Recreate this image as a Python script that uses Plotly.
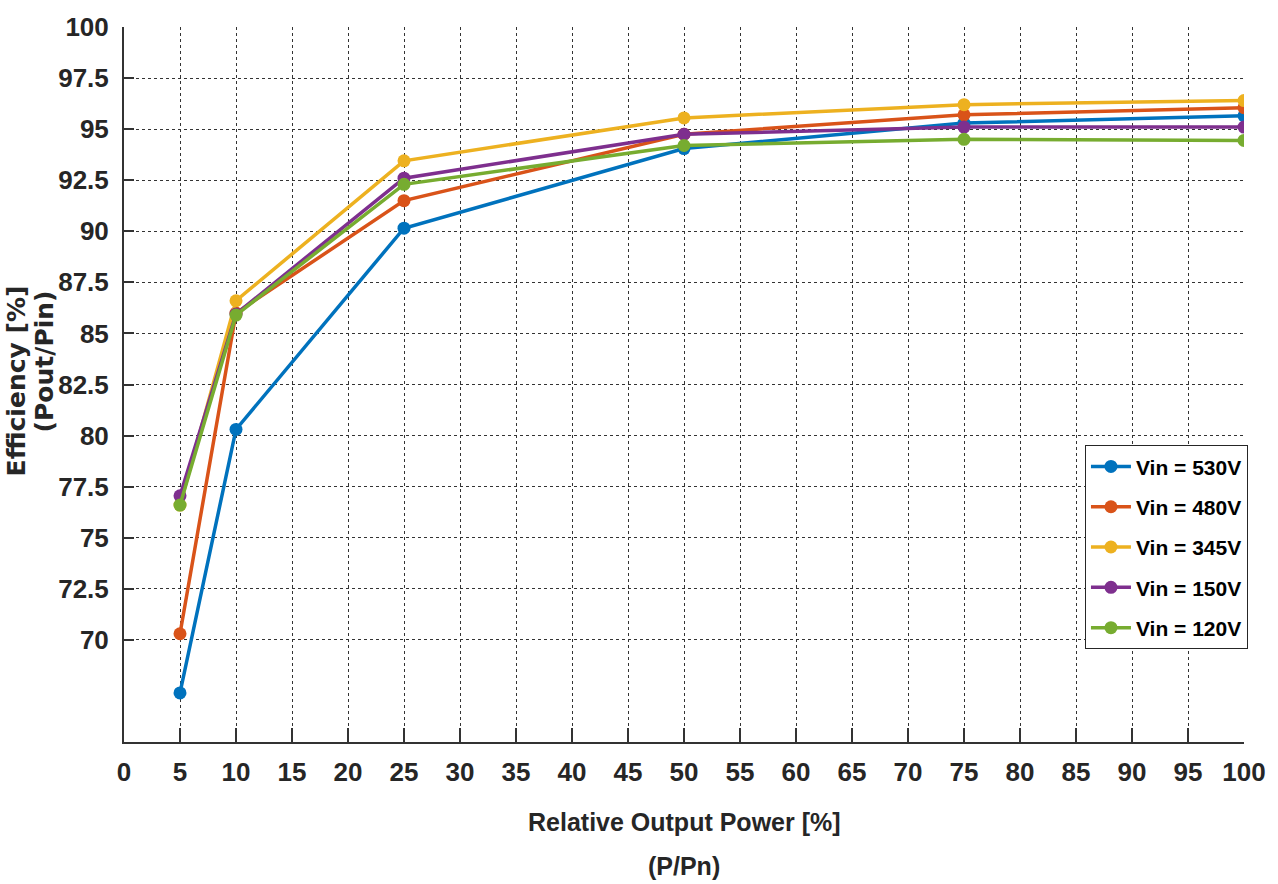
import plotly.graph_objects as go

power = [5, 10, 25, 50, 75, 100]
eff_530 = [67.4, 80.3, 90.15, 94.05, 95.3, 95.65]
eff_480 = [70.3, 86.0, 91.5, 94.75, 95.7, 96.05]
eff_345 = [76.6, 86.6, 93.45, 95.55, 96.2, 96.4]
eff_150 = [77.05, 85.95, 92.6, 94.75, 95.1, 95.1]
eff_120 = [76.6, 85.9, 92.3, 94.2, 94.5, 94.45]
names = ["Vin = 530V", "Vin = 480V", "Vin = 345V", "Vin = 150V", "Vin = 120V"]
colors = ["#0072BD", "#D95319", "#EDB120", "#7E2F8E", "#77AC30"]
xticks = list(range(0, 101, 5))
yticks = [70, 72.5, 75, 77.5, 80, 82.5, 85, 87.5, 90, 92.5, 95, 97.5, 100]

FONT = "Liberation Sans, Arial"
fig = go.Figure()
for i, (name, ys, c) in enumerate(zip(names, [eff_530, eff_480, eff_345, eff_150, eff_120], colors)):
    fig.add_trace(go.Scatter(x=power, y=ys, name=name, mode="lines+markers",
                             legendgroup=f"g{i}",
                             line=dict(color=c, width=3.5),
                             marker=dict(color=c, size=13, symbol="circle")))

axis_common = dict(showline=True, linecolor="#333333", linewidth=2,
                   ticks="inside", tickcolor="#333333", tickwidth=1.5,
                   showgrid=True, gridcolor="#333333", griddash="dot", gridwidth=1,
                   zeroline=False, mirror=False)
fig.update_xaxes(range=[0, 100], tickvals=xticks, ticktext=[str(v) for v in xticks],
                 ticklen=14, ticklabelstandoff=6,
                 tickfont=dict(family=FONT, size=26, color="#262626", weight="bold"),
                 **axis_common)
fig.update_yaxes(range=[65, 100], tickvals=yticks, ticktext=[f"{v:g}" for v in yticks],
                 ticklen=10, ticklabelstandoff=8,
                 tickfont=dict(family=FONT, size=26, color="#262626", weight="bold"),
                 **axis_common)

fig.add_annotation(text="Relative Output Power [%]", xref="paper", yref="paper",
                   x=0.5, y=-0.112, showarrow=False, yanchor="middle",
                   font=dict(family=FONT, size=25, color="#262626", weight="bold"))
fig.add_annotation(text="(P/Pn)", xref="paper", yref="paper",
                   x=0.5, y=-0.173, showarrow=False, yanchor="middle",
                   font=dict(family=FONT, size=25, color="#262626", weight="bold"))
fig.add_annotation(text="Efficiency [%]", xref="paper", yref="paper",
                   x=-0.096, y=0.505, xanchor="center", yanchor="middle", showarrow=False,
                   textangle=-90,
                   font=dict(family="DejaVu Sans, Liberation Sans", size=25, color="#262626", weight="bold"))
fig.add_annotation(text="(Pout/Pin)", xref="paper", yref="paper",
                   x=-0.071, y=0.533, xanchor="center", yanchor="middle", showarrow=False,
                   textangle=-90,
                   font=dict(family="DejaVu Sans, Liberation Sans", size=25, color="#262626", weight="bold"))

fig.update_layout(
    width=1278, height=884,
    margin=dict(l=124, r=27, t=21, b=142),
    plot_bgcolor="white", paper_bgcolor="white",
    showlegend=True,
    legend=dict(x=0.858, y=0.415, xanchor="left", yanchor="top",
                bgcolor="white", bordercolor="#262626", borderwidth=1,
                font=dict(family=FONT, size=21, color="black", weight="bold"),
                tracegroupgap=10, itemwidth=40, traceorder="grouped"),
)
fig.write_html("out.html")
